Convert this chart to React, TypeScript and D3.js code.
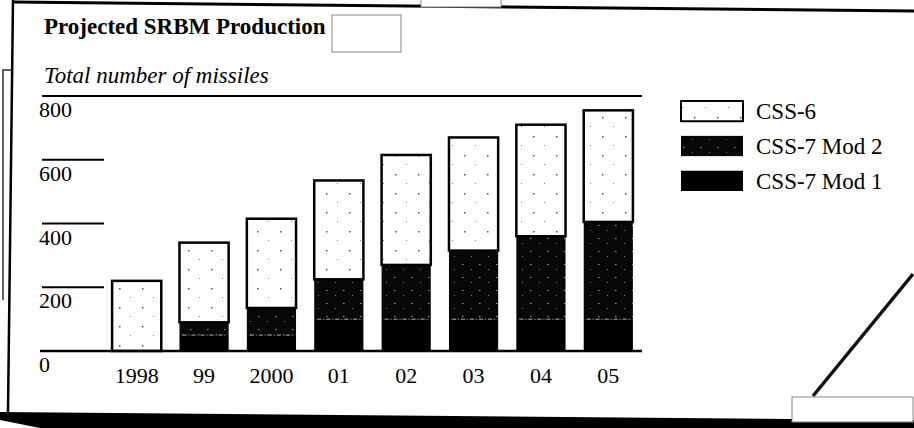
import React from "react";
import * as d3 from "d3";

const years = ["1998", "99", "2000", "01", "02", "03", "04", "05"];
const mod1 = [0, 50, 50, 100, 100, 100, 100, 100];
const mod2 = [0, 40, 85, 125, 170, 215, 260, 305];
const css6 = [220, 250, 280, 310, 345, 355, 350, 350];
const yTicks = [0, 200, 400, 600, 800];
const seriesKeys = ["mod1", "mod2", "css6"];
const seriesNames: Record<string, string> = { css6: "CSS-6", mod2: "CSS-7 Mod 2", mod1: "CSS-7 Mod 1" };
const legendOrder = ["css6", "mod2", "mod1"];

const W = 914;
const H = 428;
const FONT = "'Liberation Serif', 'Times New Roman', serif";

export default function App() {
  const rows = years.map((y, i) => ({ year: y, mod1: mod1[i], mod2: mod2[i], css6: css6[i] }));
  const stack = d3.stack<any>().keys(seriesKeys)(rows);

  const x = d3.scaleBand().domain(years).range([103, 642]).paddingInner(0.27).paddingOuter(0.135);
  const y = d3.scaleLinear().domain([0, 800]).range([351, 96]);

  const fills: Record<string, string> = { mod1: "#000", mod2: "url(#pMod2)", css6: "url(#pCss6)" };

  const legendY = d3.scaleBand().domain(legendOrder).range([101, 191]).paddingInner(0.42);

  return (
    <svg width={W} height={H} style={{ position: "absolute", left: 0, top: 0, background: "#fff" }}>
      <defs>
        <pattern id="pCss6" width="23" height="19" patternUnits="userSpaceOnUse">
          <rect width="23" height="19" fill="#fff" />
          <rect x="4" y="3" width="1.5" height="1.5" fill="#555" />
          <rect x="15" y="12" width="1" height="1" fill="#888" />
        </pattern>
        <pattern id="pMod2" width="17" height="13" patternUnits="userSpaceOnUse">
          <rect width="17" height="13" fill="#080808" />
          <rect x="3" y="4" width="1.5" height="1" fill="#999" />
          <rect x="12" y="9" width="1" height="1" fill="#777" />
        </pattern>
      </defs>

      {/* scan frame */}
      <line x1={13} y1={2} x2={914} y2={11} stroke="#000" strokeWidth={3} />
      <line x1={13} y1={0} x2={8} y2={412} stroke="#000" strokeWidth={2.5} />
      <polygon points="0,412 914,420 914,428 40,428 0,420" fill="#000" />
      <polyline points="12,70 3,70 3,300" fill="none" stroke="#333" strokeWidth={1.5} />
      <rect x={332} y={15} width={69} height={37} fill="#fff" stroke="#888" strokeWidth={1} />
      <rect x={421} y={-2} width={80} height={9} fill="#fff" stroke="#888" strokeWidth={1} />
      <line x1={813} y1={396} x2={913} y2={274} stroke="#111" strokeWidth={3.5} />
      <rect x={792} y={397} width={121} height={25} fill="#fff" stroke="#888" strokeWidth={1} />

      {/* titles */}
      <text x={44} y={34} fontFamily={FONT} fontWeight="bold" fontSize={23} fill="#000">
        Projected SRBM Production
      </text>
      <text x={44} y={83} fontFamily={FONT} fontStyle="italic" fontSize={23} fill="#000">
        Total number of missiles
      </text>

      {/* y gridlines and labels */}
      {yTicks.map((t) => (
        <g key={t}>
          {t > 0 && (
            <line
              x1={42}
              x2={t === 800 ? 642 : 104}
              y1={y(t)}
              y2={y(t)}
              stroke="#000"
              strokeWidth={2}
            />
          )}
          <text x={39} y={y(t) + 21} fontFamily={FONT} fontSize={22} fill="#000">
            {t}
          </text>
        </g>
      ))}

      {/* bars */}
      {stack.map((s) => (
        <g key={s.key}>
          {s.map((d: any, i: number) => {
            const h = y(d[0]) - y(d[1]);
            if (h <= 0) return null;
            return (
              <rect
                key={i}
                x={x(years[i])}
                y={y(d[1])}
                width={x.bandwidth()}
                height={h}
                fill={fills[s.key]}
                stroke={s.key === "css6" ? "#000" : "none"}
                strokeWidth={s.key === "css6" ? 2.5 : 0}
              />
            );
          })}
        </g>
      ))}
      {/* faint boundary between Mod 1 and Mod 2 */}
      {years.map((yr, i) =>
        mod1[i] > 0 && mod2[i] > 0 ? (
          <line
            key={yr}
            x1={(x(yr) as number) + 3}
            x2={(x(yr) as number) + x.bandwidth() - 3}
            y1={y(mod1[i])}
            y2={y(mod1[i])}
            stroke="#aaa"
            strokeWidth={1}
            strokeDasharray="4 2 1 2"
          />
        ) : null
      )}

      {/* baseline */}
      <line x1={40} x2={642} y1={y(0)} y2={y(0)} stroke="#000" strokeWidth={2.5} />

      {/* x labels */}
      {years.map((yr) => (
        <text
          key={yr}
          x={(x(yr) as number) + x.bandwidth() / 2}
          y={383}
          textAnchor="middle"
          fontFamily={FONT}
          fontSize={22}
          fill="#000"
        >
          {yr}
        </text>
      ))}

      {/* legend */}
      {legendOrder.map((k) => (
        <g key={k}>
          <rect
            x={681}
            y={legendY(k)}
            width={62}
            height={legendY.bandwidth()}
            fill={fills[k]}
            stroke={k === "css6" ? "#000" : "none"}
            strokeWidth={2}
          />
          <text
            x={756}
            y={(legendY(k) as number) + legendY.bandwidth() / 2 + 8}
            fontFamily={FONT}
            fontSize={23}
            fill="#000"
          >
            {seriesNames[k]}
          </text>
        </g>
      ))}
    </svg>
  );
}
